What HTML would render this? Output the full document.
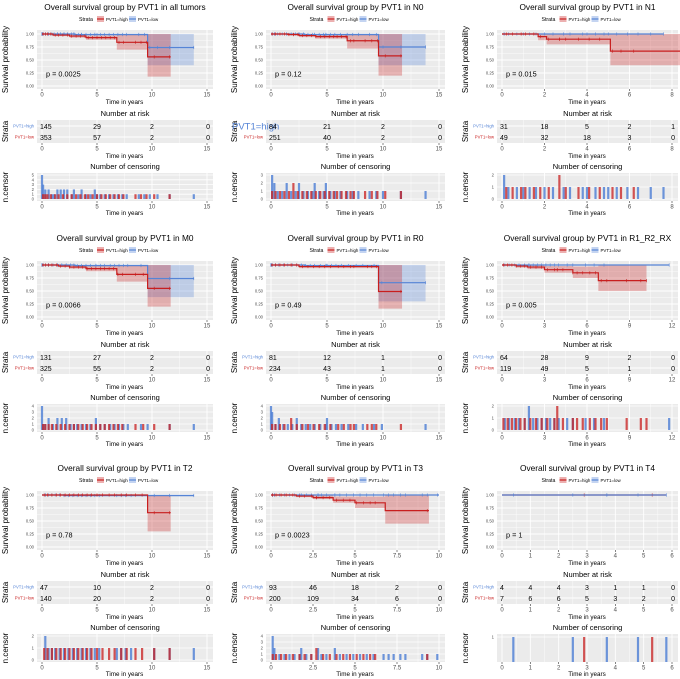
<!DOCTYPE html>
<html><head><meta charset="utf-8">
<style>
html,body{margin:0;padding:0;background:#fff;}
svg{display:block;font-family:"Liberation Sans",sans-serif;}
</style></head>
<body>
<svg id="fig" width="680" height="679" viewBox="0 0 680 679" xmlns="http://www.w3.org/2000/svg"></svg>
<script>
// ---------- data ----------
const titles = ["all tumors","N0","N1","M0","R0","R1_R2_RX","T2","T3","T4"];
const pValues = ["p = 0.0025","p = 0.12","p = 0.015","p = 0.0066","p = 0.49","p = 0.005","p = 0.78","p = 0.0023","p = 1"];
const xMaxes = [15,15,8,15,15,12,15,10,6];
const xTickSets = [[0,5,10,15],[0,5,10,15],[0,2,4,6,8],[0,5,10,15],[0,5,10,15],[0,3,6,9,12],[0,5,10,15],[0,2.5,5,7.5,10],[0,1,2,3,4,5,6]];
const xTickLabels = [["0","5","10","15"],["0","5","10","15"],["0","2","4","6","8"],["0","5","10","15"],["0","5","10","15"],["0","3","6","9","12"],["0","5","10","15"],["0","2.5","5","7.5","10"],["0","1","2","3","4","5","6"]];
const highT = [[0,1,2.5,4,6.8,9.6],[0,1.5,2.5,4,6.8,9.6],[0,1.7,2.1,5.1],[0,1.5,2.5,4,6.8,9.6],[0,2.5,9.6],[0,1,1.8,3,5,6.8],[0,9.6],[0,1.5,2.5,3.7,5,6.8],[0]];
const highS = [[1,0.98,0.96,0.93,0.84,0.56],[1,0.99,0.97,0.95,0.87,0.58],[1,0.95,0.9,0.67],[1,0.98,0.96,0.93,0.82,0.55],[1,0.97,0.49],[1,0.98,0.96,0.91,0.85,0.7],[1,0.66],[1,0.98,0.95,0.9,0.85,0.7],[1]];
const highLo = [[1,0.96,0.93,0.89,0.7,0.18],[1,0.97,0.94,0.91,0.72,0.2],[1,0.88,0.8,0.4],[1,0.96,0.93,0.88,0.68,0.2],[1,0.94,0.16],[1,0.95,0.92,0.85,0.75,0.5],[1,0.3],[1,0.96,0.92,0.85,0.75,0.45],[1]];
const highHi = [[1,1,0.99,0.97,0.98,1],[1,1,1,0.99,1,1],[1,1,1,1],[1,1,0.99,0.98,0.98,1],[1,1,1],[1,1,1,0.98,0.97,1],[1,1],[1,1,0.99,0.97,0.97,1],[1]];
const highEnd = [11.7,11.7,8.4,11.7,11.7,10.2,11.7,9.4,5.8];
const lowT = [[0,3,9.6],[0,3,9.6],[0],[0,3,9.6],[0,3,9.6],[0],[0,2],[0,9.5],[0]];
const lowS = [[1,0.99,0.74],[1,0.99,0.75],[1],[1,0.99,0.74],[1,0.99,0.66],[1],[1,0.99],[1,1,0.5],[1]];
const lowLo = [[1,0.97,0.4],[1,0.97,0.4],[1],[1,0.97,0.38],[1,0.97,0.3],[1],[1,0.97],[1,1,0.08],[1]];
const lowHi = [[1,1,1],[1,1,1],[1],[1,1,1],[1,1,1],[1],[1,1],[1,1,1],[1]];
const lowEnd = [13.8,13.8,7.6,13.8,13.8,11.8,13.8,10,5.8];
const riskHigh = [[145,29,2,0],[84,21,2,0],[31,18,5,2,1],[131,27,2,0],[81,12,1,0],[64,28,9,2,0],[47,10,2,0],[93,46,18,2,0],[4,4,4,3,1,1,0]];
const riskLow = [[353,57,2,0],[251,40,2,0],[49,32,18,3,0],[325,55,2,0],[234,43,1,0],[119,49,5,1,0],[140,20,2,0],[200,109,34,6,0],[7,6,6,5,3,2,0]];
const censMax = [5,3,2,4,4,2,2,4,1];
const censHigh = [
 [0.1,0.3,0.5,0.8,1.2,1.5,1.9,2.3,2.7,3.1,3.5,3.9,4.2,4.6,5.0,5.4,5.8,6.2,6.6,7.0,7.4,8.5,9.0,9.5,10.2,11.6],
 [0.1,0.4,0.8,1.2,1.6,2.0,2.0,2.4,2.8,3.2,3.6,4.0,4.4,4.8,5.2,5.6,5.9,6.3,6.7,7.1,7.4,8.4,9.0,9.5,10.2,11.6],
 [0.2,0.5,0.9,1.1,1.5,1.8,2.2,2.7,2.7,3.0,3.6,4.1,4.6,5.2,5.6,6.2],
 [0.1,0.3,0.6,0.9,1.3,1.7,2.1,2.5,2.9,3.3,3.7,4.1,4.5,4.9,5.3,5.7,6.1,6.5,6.9,7.3,8.5,9.2,10.2,11.6],
 [0.1,0.4,0.8,1.2,1.8,1.8,2.3,2.8,3.3,3.8,4.3,4.8,5.3,6.0,6.5,7.1,7.4,8.6,9.0,9.4,11.6],
 [0.1,0.4,0.7,1.0,1.3,1.6,2.0,2.4,2.8,3.2,3.7,3.9,3.9,4.3,5.0,5.3,5.7,6.2,6.6,7.0,7.4,8.8,9.8,10.2],
 [0.2,0.5,0.9,1.3,1.7,2.1,2.5,2.9,3.3,3.7,4.1,4.5,5.0,5.5,6.1,6.6,7.2,7.7,8.5,9.1,10.2,11.6],
 [0.1,0.3,0.6,0.9,1.3,1.7,2.0,2.4,2.7,2.7,3.1,3.5,3.9,4.3,4.7,5.1,5.5,5.9,6.2,9.3],
 [2.9,5.3]
];
const censLow = [
 [0,0,0,0,0,0.1,0.1,0.1,0.3,0.3,0.6,0.6,0.9,1.1,1.4,1.4,1.7,1.7,2.0,2.0,2.3,2.3,2.7,2.9,2.9,3.3,3.6,3.6,4.0,4.4,4.8,4.8,5.0,5.3,5.7,6.1,6.5,6.9,7.3,7.7,8.8,9.3,9.8,10.5,11.6,13.8],
 [0.1,0.1,0.1,0.3,0.3,0.6,1.0,1.4,1.4,1.8,2.2,2.5,2.5,2.9,3.3,3.7,3.9,3.9,4.3,4.7,4.9,4.9,5.3,5.7,6.2,6.8,7.3,7.8,8.8,9.4,10.0,11.6,13.8],
 [0.1,0.1,0.3,0.7,1.0,1.3,1.6,2.0,2.4,2.9,3.2,3.8,4.0,4.4,4.8,5.0,5.4,5.9,6.4,7.0,7.6],
 [0,0,0,0,0.1,0.3,0.6,0.6,1.0,1.4,1.4,1.8,1.8,2.2,2.2,2.6,2.9,3.2,3.6,4.0,4.4,4.9,4.9,5.3,5.7,6.2,6.6,7.0,7.4,7.8,9.0,9.6,11.6,13.8],
 [0,0,0,0,0.1,0.1,0.1,0.4,0.7,0.7,1.1,1.5,1.9,2.3,2.3,2.7,3.1,3.5,3.9,4.4,4.9,5.0,5.0,5.4,5.8,6.3,6.9,7.6,8.2,9.2,9.9,13.8],
 [0.2,0.5,0.9,1.2,1.6,1.9,1.9,2.2,2.5,2.8,3.1,3.4,3.7,4.0,4.6,5.0,5.9,6.5,7.2,11.8],
 [0.3,0.3,0.6,0.9,1.2,1.6,2.0,2.4,2.8,3.2,3.6,4.0,4.4,4.8,5.2,6.8,7.2,7.6,8.1,10.2,11.6,13.8],
 [0.1,0.1,0.1,0.1,0.2,0.2,0.5,0.8,1.1,1.4,1.7,1.8,1.8,2.1,2.4,2.8,2.8,3.0,3.3,3.8,3.8,4.1,4.5,4.9,5.3,5.7,6.1,6.7,7.0,7.3,7.7,8.0,9.0,9.3,9.9],
 [0.4,2.5,3.7,3.7,4.8,5.8]
];
// ---------- drawing ----------
const svg = document.getElementById('fig');
const NS = 'http://www.w3.org/2000/svg';
const RED = '#c81e1e', BLUE = '#5584d6', BG = '#ebebeb';
const colL = [37,266,497], colR = [213,445,678];
const rowTop = [0,231,461];
function mk(tag, attrs, parent, text){
  const e = document.createElementNS(NS, tag);
  for (const k in attrs) e.setAttribute(k, attrs[k]);
  if (text !== undefined) e.textContent = text;
  (parent || svg).appendChild(e);
  return e;
}
function txt(x,y,s,size,parent,anchor,fill,rot){
  const t = mk('text',{x:x,y:y,'font-size':size,'text-anchor':anchor||'middle',fill:fill||'#000'},parent,s);
  if (rot) t.setAttribute('transform','rotate(-90 '+x+' '+y+')');
  return t;
}
function stepPath(ts, vs, end, X, Y){
  let d = 'M'+X(ts[0])+','+Y(vs[0]);
  for (let i=1;i<ts.length;i++){ d += 'H'+X(ts[i])+'V'+Y(vs[i]); }
  d += 'H'+X(end);
  return d;
}
function survAt(ts, vs, t){
  let s = vs[0];
  for (let i=0;i<ts.length;i++) if (ts[i]<=t) s = vs[i];
  return s;
}
function bandPath(ts, lo, hi, end, X, Y){
  let up = [], dn = [];
  for (let i=0;i<ts.length;i++){
    const t1 = i+1<ts.length ? ts[i+1] : end;
    up.push([X(ts[i]),Y(hi[i])],[X(t1),Y(hi[i])]);
    dn.push([X(ts[i]),Y(lo[i])],[X(t1),Y(lo[i])]);
  }
  const pts = up.concat(dn.reverse());
  return 'M'+pts.map(p=>p.join(',')).join('L')+'Z';
}
function xAxis(g, X, ticks, labels, yb, ylab){
  ticks.forEach((t,i)=>{
    mk('line',{x1:X(t),x2:X(t),y1:yb,y2:yb+2,stroke:'#333','stroke-width':0.6},g);
    txt(X(t),yb+7.5,labels[i],6,g,'middle','#4d4d4d');
  });
  txt((X(ticks[0])+X(ticks[ticks.length-1]))/2, ylab, 'Time in years', 6.3, g);
}
function grid(g, X, ticks, top, bot){
  ticks.forEach((t,i)=>{
    mk('line',{x1:X(t),x2:X(t),y1:top,y2:bot,stroke:'#fff','stroke-width':0.9},g);
    if (i<ticks.length-1){ const m=(X(t)+X(ticks[i+1]))/2; mk('line',{x1:m,x2:m,y1:top,y2:bot,stroke:'#fff','stroke-width':0.4},g); }
  });
}
for (let p=0;p<9;p++){
  const L = colL[p%3], R = colR[p%3], oy = rowTop[Math.floor(p/3)];
  const xmax = xMaxes[p];
  const X = t => L+5 + t/xmax*(R-L-11);
  const g = mk('g',{});
  
  
  const cx = (L+R)/2;
  const tt = txt(cx, oy+10, 'Overall survival group by PVT1 in '+titles[p], 8.3, g);
  
  
  const lg = mk('g',{},g);
  
  
  const lx = cx-46, ly = oy+19;
  txt(lx, ly+2, 'Strata', 5.2, lg, 'start');
  mk('rect',{x:lx+18,y:ly-3,width:7,height:6,fill:RED,'fill-opacity':0.35},lg);
  mk('line',{x1:lx+18,x2:lx+25,y1:ly,y2:ly,stroke:RED,'stroke-width':1.2},lg);
  txt(lx+27, ly+2, 'PVT1=high', 4.4, lg, 'start');
  mk('rect',{x:lx+50,y:ly-3,width:7,height:6,fill:BLUE,'fill-opacity':0.35},lg);
  mk('line',{x1:lx+50,x2:lx+57,y1:ly,y2:ly,stroke:BLUE,'stroke-width':1.2},lg);
  txt(lx+59, ly+2, 'PVT1=low', 4.4, lg, 'start');
  // KM plot
  const top = oy+30, bot = oy+89;
  const Y = s => (bot-3) - s*((bot-3)-(top+4));
  const pg = mk('g',{},g);
  
  
  mk('rect',{x:L,y:top,width:R-L,height:bot-top,fill:BG},pg);
  grid(pg, X, xTickSets[p], top, bot);
  [0,0.25,0.5,0.75,1].forEach((v,i)=>{
    mk('line',{x1:L,x2:R,y1:Y(v),y2:Y(v),stroke:'#fff','stroke-width':0.9},pg);
    if(i<4) mk('line',{x1:L,x2:R,y1:Y(v+0.125),y2:Y(v+0.125),stroke:'#fff','stroke-width':0.4},pg);
    txt(L-3, Y(v)+1.5, v.toFixed(2), 4.2, pg, 'end', '#4d4d4d');
  });
  txt(L-29, (top+bot)/2, 'Survival probability', 8, pg, 'middle', '#000', true);
  mk('path',{d:bandPath(lowT[p],lowLo[p],lowHi[p],lowEnd[p],X,Y),fill:BLUE,'fill-opacity':0.3},pg);
  mk('path',{d:bandPath(highT[p],highLo[p],highHi[p],highEnd[p],X,Y),fill:RED,'fill-opacity':0.3},pg);
  const series = [
    {ts:lowT[p],vs:lowS[p],end:lowEnd[p],col:BLUE,cens:censLow[p],name:'curve-pvt1-low'},
    {ts:highT[p],vs:highS[p],end:highEnd[p],col:RED,cens:censHigh[p],name:'curve-pvt1-high'}
  ];
  if (p===8) series.reverse();
  series.forEach(s=>{
    const ln = mk('path',{d:stepPath(s.ts,s.vs,s.end,X,Y),fill:'none',stroke:s.col,'stroke-width':1.2},pg);
    
    
    s.cens.forEach(t=>{
      if (t<=s.end){
        const yy = Y(survAt(s.ts,s.vs,t));
        mk('line',{x1:X(t),x2:X(t),y1:yy-1.6,y2:yy+1.6,stroke:s.col,'stroke-width':0.6},pg);
      }
    });
  });
  txt(L+9, Y(0.22)+2, pValues[p], 7.3, pg, 'start');
  xAxis(pg, X, xTickSets[p], xTickLabels[p], bot, bot+15);
  // risk table
  const rt = oy+120, rb = oy+143;
  const rg = mk('g',{},g);
  
  
  txt(cx, oy+116, 'Number at risk', 7.5, rg);
  mk('rect',{x:L,y:rt,width:R-L,height:rb-rt,fill:BG},rg);
  grid(rg, X, xTickSets[p], rt, rb);
  mk('line',{x1:L,x2:R,y1:rt+6,y2:rt+6,stroke:'#fff','stroke-width':0.9},rg);
  mk('line',{x1:L,x2:R,y1:rt+17,y2:rt+17,stroke:'#fff','stroke-width':0.9},rg);
  txt(L-29, (rt+rb)/2, 'Strata', 8, rg, 'middle', '#000', true);
  if (p===1){ txt(L-34, rt+9.5, 'PVT1=high', 9.5, rg, 'start', BLUE); }
  else txt(L-3, rt+7.5, 'PVT1=high', 4.2, rg, 'end', BLUE);
  txt(L-3, rt+18.5, 'PVT1=low', 4.2, rg, 'end', RED);
  const nT = xTickSets[p].length;
  xTickSets[p].forEach((t,i)=>{
    const anc = i===0?'start':(i===nT-1?'end':'middle');
    const xx = i===0?X(t)-2:(i===nT-1?X(t)+3:X(t));
    txt(xx, rt+9, String(riskHigh[p][i]), 7, rg, anc);
    txt(xx, rt+20, String(riskLow[p][i]), 7, rg, anc);
  });
  xAxis(rg, X, xTickSets[p], xTickLabels[p], rb, rb+15);
  // censoring plot
  const ct = oy+173, cb = oy+201;
  const cg = mk('g',{},g);
  
  
  txt(cx, oy+169, 'Number of censoring', 7.5, cg);
  mk('rect',{x:L,y:ct,width:R-L,height:cb-ct,fill:BG},cg);
  grid(cg, X, xTickSets[p], ct, cb);
  const cm = censMax[p];
  const CY = c => cm===1 ? (cb - c*(cb-ct-3)) : ((cb-2) - c/cm*((cb-2)-(ct+2)));
  for (let c=(cm===1?1:0);c<=cm;c++){
    mk('line',{x1:L,x2:R,y1:CY(c),y2:CY(c),stroke:'#fff','stroke-width':0.8},cg);
    txt(L-3, CY(c)+1.5, String(c), 4.2, cg, 'end', '#4d4d4d');
  }
  txt(L-29, (ct+cb)/2, 'n.censor', 8, cg, 'middle', '#000', true);
  [[censLow[p],BLUE,0.85],[censHigh[p],RED,0.75]].forEach(([arr,col,op])=>{
    const counts = {};
    arr.forEach(t=>{counts[t]=(counts[t]||0)+1;});
    Object.keys(counts).forEach(k=>{
      const t = parseFloat(k), c = Math.min(counts[k], cm);
      const y0 = cm===1 ? cb : CY(0);
      const b = mk('rect',{x:X(t)-1.1,y:CY(c),width:2.2,height:y0-CY(c),fill:col,'fill-opacity':op},cg);
      
      
    });
  });
  xAxis(cg, X, xTickSets[p], xTickLabels[p], cb, cb+14);
}
</script>
</body></html>
